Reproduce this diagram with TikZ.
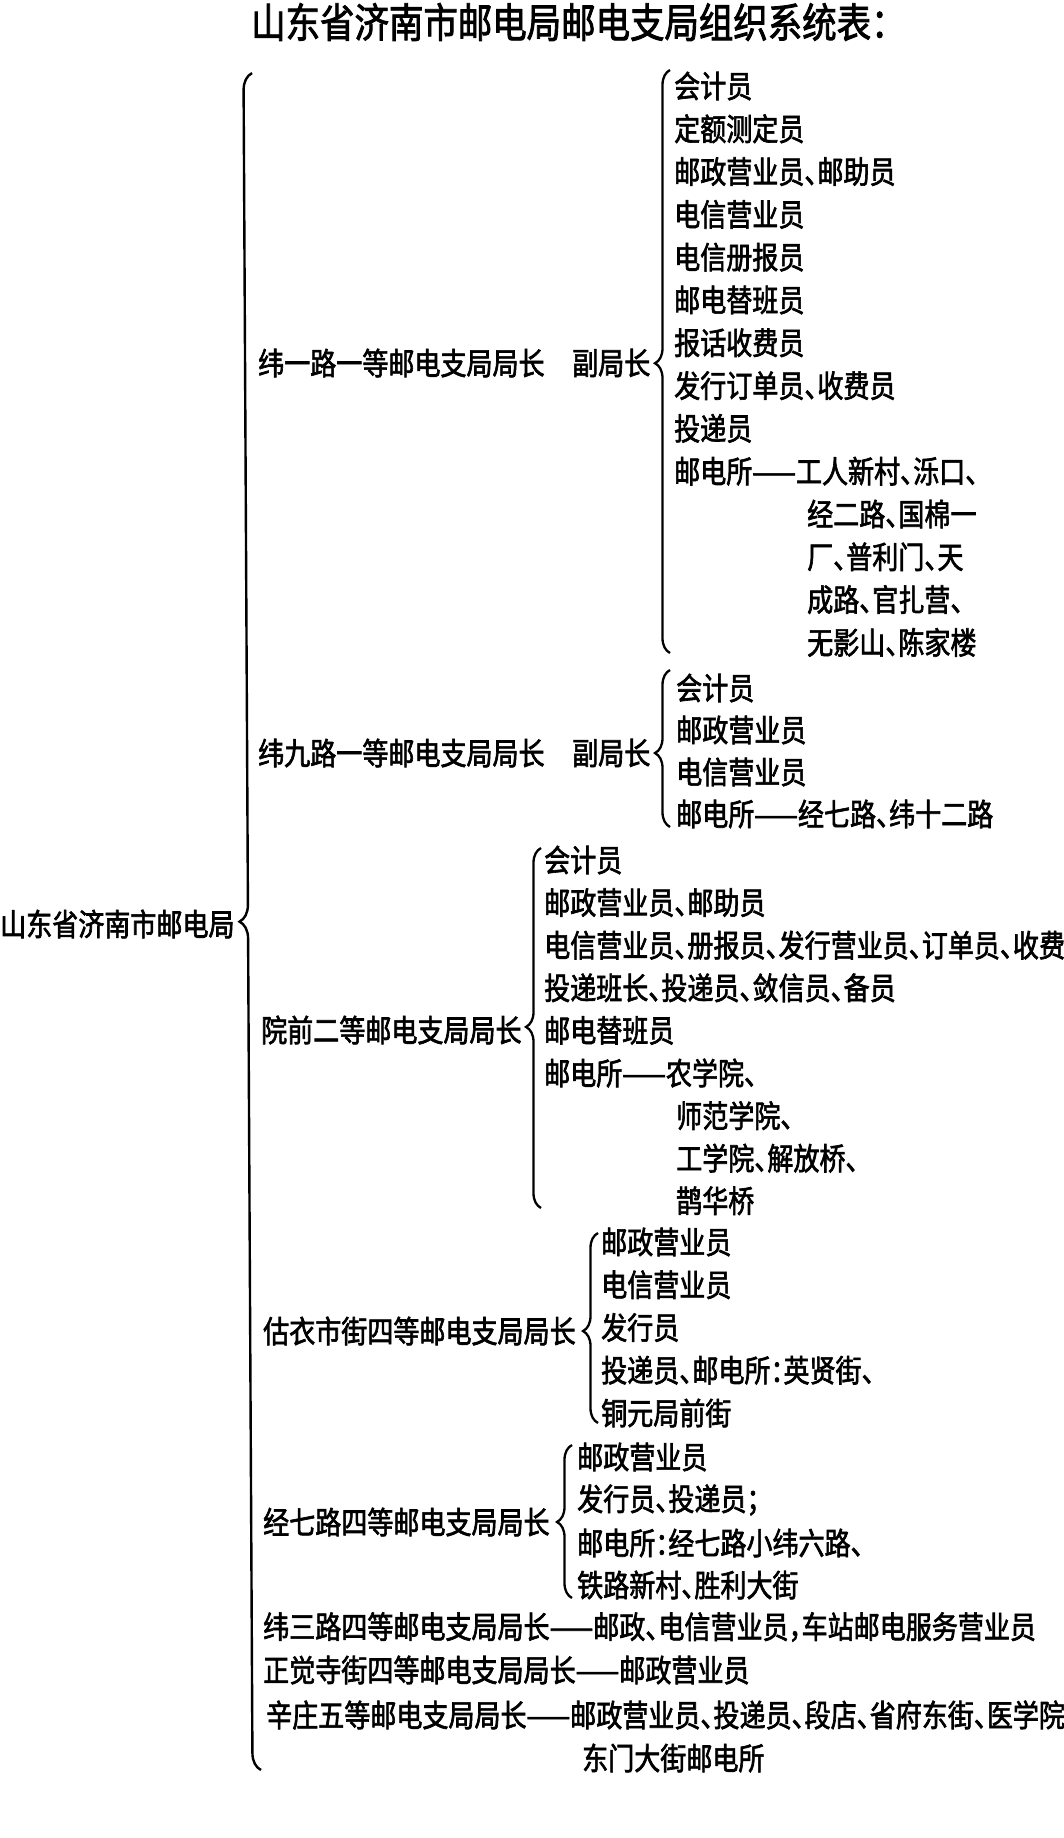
\documentclass[tikz,border=0pt]{standalone}
\usepackage{fontspec}
\setmainfont{Noto Sans CJK SC}[FakeStretch=0.84, RawFeature=+halt, FakeBold=2]
\usetikzlibrary{decorations.pathreplacing}
\newcommand\fsbody{\fontsize{31}{31}\selectfont}
\newcommand\fstitle{\fontsize{41}{41}\selectfont}
\tikzset{
  lbl/.style={anchor=west, inner sep=0pt, font=\fsbody},
  ttl/.style={anchor=west, inner sep=0pt, font=\fstitle},
  brc/.style={decorate, decoration={brace, amplitude=15pt, aspect=#1}, line width=2.3pt},
  mainbrc/.style={decorate, decoration={brace, amplitude=17pt, aspect=#1}, line width=2.4pt}
}
\begin{document}
\begin{tikzpicture}[x=1pt,y=-1pt]
\useasboundingbox (0,0) rectangle (1063,1838);
\fill[white] (0,0) rectangle (1063,1838);

% title
\node[ttl] (title) at (251,22) {山东省济南市邮电局邮电支局组织系统表：};

% root
\node[lbl] (root) at (0,924) {山东省济南市邮电局};
\coordinate (mt) at (252,73);
\coordinate (mb) at (261,1770);
\draw[mainbrc=0.5] (mb) -- (mt);

% branch 1
\node[lbl] (b1) at (258,363) {纬一路一等邮电支局局长};
\node[lbl] (b1v) at (572,363) {副局长};
\coordinate (b1t) at (670,70);
\coordinate (b1b) at (670,653);
\draw[brc=0.497] (b1b) -- (b1t);
\node[lbl] (b1i1) at (674,86) {会计员};
\node[lbl] (b1i2) at (674,128.8) {定额测定员};
\node[lbl] (b1i3) at (674,171.6) {邮政营业员、邮助员};
\node[lbl] (b1i4) at (674,214.4) {电信营业员};
\node[lbl] (b1i5) at (674,257.2) {电信册报员};
\node[lbl] (b1i6) at (674,300) {邮电替班员};
\node[lbl] (b1i7) at (674,342.8) {报话收费员};
\node[lbl] (b1i8) at (674,385.6) {发行订单员、收费员};
\node[lbl] (b1i9) at (674,428.4) {投递员};
\node[lbl] (b1i10) at (674,471.2) {邮电所——工人新村、泺口、};
\node[lbl] (b1c1) at (807,514) {经二路、国棉一};
\node[lbl] (b1c2) at (807,556.8) {厂、普利门、天};
\node[lbl] (b1c3) at (807,599.6) {成路、官扎营、};
\node[lbl] (b1c4) at (807,642.4) {无影山、陈家楼};

% branch 2
\node[lbl] (b2) at (258,753) {纬九路一等邮电支局局长};
\node[lbl] (b2v) at (572,753) {副局长};
\coordinate (b2t) at (670,670);
\coordinate (b2b) at (670,827);
\draw[brc=0.471] (b2b) -- (b2t);
\node[lbl] (b2i1) at (676,688) {会计员};
\node[lbl] (b2i2) at (676,730) {邮政营业员};
\node[lbl] (b2i3) at (676,772) {电信营业员};
\node[lbl] (b2i4) at (676,814) {邮电所——经七路、纬十二路};

% branch 3
\node[lbl] (b3) at (261,1030) {院前二等邮电支局局长};
\coordinate (b3t) at (541,848);
\coordinate (b3b) at (541,1208);
\draw[brc=0.503] (b3b) -- (b3t);
\node[lbl] (b3i1) at (544,860) {会计员};
\node[lbl] (b3i2) at (544,902.6) {邮政营业员、邮助员};
\node[lbl] (b3i3) at (544,945.2) {电信营业员、册报员、发行营业员、订单员、收费};
\node[lbl] (b3i4) at (544,987.8) {投递班长、投递员、敛信员、备员};
\node[lbl] (b3i5) at (544,1030.4) {邮电替班员};
\node[lbl] (b3i6) at (544,1073) {邮电所——农学院、};
\node[lbl] (b3c1) at (676,1115.6) {师范学院、};
\node[lbl] (b3c2) at (676,1158.2) {工学院、解放桥、};
\node[lbl] (b3c3) at (676,1200.8) {鹊华桥};

% branch 4
\node[lbl] (b4) at (263,1331) {估衣市街四等邮电支局局长};
\coordinate (b4t) at (598,1233);
\coordinate (b4b) at (598,1423);
\draw[brc=0.484] (b4b) -- (b4t);
\node[lbl] (b4i1) at (601,1242) {邮政营业员};
\node[lbl] (b4i2) at (601,1284.75) {电信营业员};
\node[lbl] (b4i3) at (601,1327.5) {发行员};
\node[lbl] (b4i4) at (601,1370.25) {投递员、邮电所：英贤街、};
\node[lbl] (b4i5) at (601,1413) {铜元局前街};

% branch 5
\node[lbl] (b5) at (263,1522) {经七路四等邮电支局局长};
\coordinate (b5t) at (572,1445);
\coordinate (b5b) at (572,1598);
\draw[brc=0.497] (b5b) -- (b5t);
\node[lbl] (b5i1) at (577,1457) {邮政营业员};
\node[lbl] (b5i2) at (577,1500) {发行员、投递员；};
\node[lbl] (b5i3) at (577,1543) {邮电所：经七路小纬六路、};
\node[lbl] (b5i4) at (577,1585) {铁路新村、胜利大街};

% branches 6-8
\node[lbl] (b6) at (263,1627) {纬三路四等邮电支局局长——邮政、电信营业员，车站邮电服务营业员};
\node[lbl] (b7) at (263,1670) {正觉寺街四等邮电支局局长——邮政营业员};
\node[lbl] (b8) at (266,1715) {辛庄五等邮电支局局长——邮政营业员、投递员、段店、省府东街、医学院};
\node[lbl] (b8c) at (582,1758) {东门大街邮电所};
\end{tikzpicture}
\end{document}
